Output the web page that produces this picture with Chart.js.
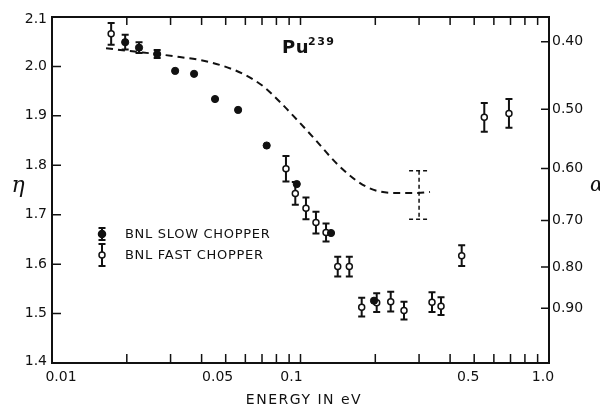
<!DOCTYPE html>
<html>
<head>
<meta charset="utf-8">
<script src="https://cdn.jsdelivr.net/npm/chart.js@4/dist/chart.umd.min.js"></script>
<style>
  html, body { margin: 0; padding: 0; background: #fff; }
  #wrap { width: 600px; height: 409px; position: relative; }
</style>
</head>
<body>
<div id="wrap"><canvas id="chart"></canvas></div>
<script>
// ── DATA ──────────────────────────────────────────────────
// BNL slow chopper (filled circles)
const slowE   = [0.0197, 0.0224, 0.0265, 0.0313, 0.0373, 0.0453, 0.0561, 0.0731, 0.0966, 0.1327, 0.1976];
const slowEta = [2.049,  2.038,  2.025,  1.991,  1.985,  1.934,  1.912,  1.840,  1.762,  1.663,  1.526];
const slowErr = [0.015,  0.011,  0.008,  0,      0,      0,      0,      0,      0,      0,      0];

// BNL fast chopper (open circles)
const fastE   = [0.0173, 0.0874, 0.0953, 0.1052, 0.1154, 0.1267, 0.1412, 0.1572, 0.1763, 0.2026, 0.2307, 0.2609, 0.3382, 0.3677, 0.4453, 0.549, 0.690];
const fastEta = [2.066,  1.793,  1.743,  1.713,  1.684,  1.664,  1.595,  1.595,  1.513,  1.522,  1.524,  1.506,  1.523,  1.515,  1.617,  1.897, 1.905];
const fastErr = [0.022,  0.026,  0.023,  0.022,  0.022,  0.018,  0.020,  0.020,  0.019,  0.019,  0.020,  0.018,  0.020,  0.018,  0.021,  0.029, 0.029];

// dashed reference curve
const curveE   = [0.0165, 0.0206, 0.0265, 0.0327, 0.0394, 0.0474, 0.0587, 0.0707, 0.0827, 0.0968, 0.1123, 0.1442, 0.1852, 0.2357, 0.297, 0.332];
const curveEta = [2.037,  2.031,  2.025,  2.019,  2.013,  2.003,  1.985,  1.960,  1.928,  1.892,  1.857,  1.797,  1.756,  1.744,  1.744, 1.746];
// dashed error bar on the curve
const curveBarE  = 0.30;
const curveBarHi = 1.789;
const curveBarLo = 1.691;

// axes
const xTickVals   = [0.01, 0.05, 0.1, 0.5, 1.0];
const xTickLabels = ['0.01', '0.05', '0.1', '0.5', '1.0'];
const xMinorVals  = [0.01, 0.02, 0.03, 0.04, 0.05, 0.06, 0.07, 0.08, 0.09, 0.1,
                     0.2, 0.3, 0.4, 0.5, 0.6, 0.7, 0.8, 0.9, 1.0];
const etaTicks    = [1.4, 1.5, 1.6, 1.7, 1.8, 1.9, 2.0, 2.1];
const etaLabels   = ['1.4', '1.5', '1.6', '1.7', '1.8', '1.9', '2.0', '2.1'];
const alphaTicks  = [0.40, 0.50, 0.60, 0.70, 0.80, 0.90];
const alphaLabels = ['0.40', '0.50', '0.60', '0.70', '0.80', '0.90'];
const NU = 2.87;  // eta = nu / (1 + alpha)

const FONT = '"DejaVu Sans", sans-serif';

// ── OVERLAY PLUGIN ───────────────────────────────────────
const overlay = {
  id: 'overlay',
  beforeDatasetsDraw(chart) {
    const ctx = chart.ctx, xs = chart.scales.x, ys = chart.scales.y;
    ctx.save();
    ctx.strokeStyle = '#111';
    ctx.lineWidth = 2;
    const bar = (E, v, e) => {
      if (!e) return;
      const px = xs.getPixelForValue(E);
      const t = ys.getPixelForValue(v + e), b = ys.getPixelForValue(v - e);
      ctx.beginPath();
      ctx.moveTo(px, t); ctx.lineTo(px, b);
      ctx.moveTo(px - 3.5, t); ctx.lineTo(px + 3.5, t);
      ctx.moveTo(px - 3.5, b); ctx.lineTo(px + 3.5, b);
      ctx.stroke();
    };
    slowE.forEach((E, i) => bar(E, slowEta[i], slowErr[i]));
    fastE.forEach((E, i) => bar(E, fastEta[i], fastErr[i]));

    // dashed bar on the curve
    const px = xs.getPixelForValue(curveBarE);
    const t = ys.getPixelForValue(curveBarHi), b = ys.getPixelForValue(curveBarLo);
    ctx.lineWidth = 1.5;
    ctx.setLineDash([4, 3]);
    ctx.beginPath();
    ctx.moveTo(px, t); ctx.lineTo(px, b);
    ctx.moveTo(px - 10, t); ctx.lineTo(px + 10, t);
    ctx.moveTo(px - 10, b); ctx.lineTo(px + 10, b);
    ctx.stroke();
    ctx.restore();
  },
  afterDraw(chart) {
    const ctx = chart.ctx, xs = chart.scales.x, ys = chart.scales.y;
    const a = chart.chartArea;
    ctx.save();
    ctx.strokeStyle = '#111';
    ctx.fillStyle = '#111';

    // frame
    ctx.lineWidth = 2;
    ctx.strokeRect(a.left, a.top, a.right - a.left, a.bottom - a.top);

    // x ticks (bottom pointing up, top pointing down)
    ctx.lineWidth = 1.5;
    ctx.beginPath();
    xMinorVals.forEach(v => {
      const px = xs.getPixelForValue(v);
      ctx.moveTo(px, a.bottom); ctx.lineTo(px, a.bottom - 9);
      ctx.moveTo(px, a.top);    ctx.lineTo(px, a.top + 8);
    });
    // left eta ticks
    etaTicks.forEach(v => {
      const py = ys.getPixelForValue(v);
      ctx.moveTo(a.left, py); ctx.lineTo(a.left + 9, py);
    });
    // right alpha ticks
    alphaTicks.forEach(al => {
      const py = ys.getPixelForValue(NU / (1 + al));
      ctx.moveTo(a.right, py); ctx.lineTo(a.right - 8, py);
    });
    ctx.stroke();

    // tick labels
    ctx.font = '14px ' + FONT;
    ctx.textBaseline = 'middle';
    ctx.textAlign = 'right';
    etaTicks.forEach((v, i) => {
      const py = ys.getPixelForValue(v);
      const dy = i === 0 ? -2 : (i === etaTicks.length - 1 ? 2 : 0);
      ctx.fillText(etaLabels[i], a.left - 5, py + dy);
    });
    ctx.textAlign = 'left';
    alphaTicks.forEach((al, i) => {
      ctx.fillText(alphaLabels[i], a.right + 3, ys.getPixelForValue(NU / (1 + al)));
    });
    const xOff = [9, -8, -9, -6, -6];
    ctx.textAlign = 'center';
    xTickVals.forEach((v, i) => {
      ctx.fillText(xTickLabels[i], xs.getPixelForValue(v) + xOff[i], a.bottom + 14);
    });

    // axis titles
    ctx.letterSpacing = '1.5px';
    ctx.fillText('ENERGY IN eV', 304, 400);
    ctx.letterSpacing = '0px';
    ctx.font = 'italic 22px "DejaVu Serif", serif';
    ctx.fillText('η', 18, 186);
    ctx.font = 'italic 20px "DejaVu Serif", serif';
    ctx.textAlign = 'left';
    ctx.fillText('α', 590, 186);

    // title Pu239
    ctx.textBaseline = 'alphabetic';
    ctx.font = 'bold 18px ' + FONT;
    ctx.letterSpacing = '0.5px';
    ctx.fillText('Pu', 282, 53);
    ctx.font = 'bold 11px ' + FONT;
    ctx.letterSpacing = '1.5px';
    ctx.fillText('239', 308, 45);

    // legend
    const lx = 102;
    const legend = [
      { y: 234, filled: true,  err: 6,  text: 'BNL SLOW CHOPPER' },
      { y: 255, filled: false, err: 11, text: 'BNL FAST CHOPPER' },
    ];
    ctx.font = '13px ' + FONT;
    ctx.letterSpacing = '0.7px';
    ctx.textBaseline = 'middle';
    legend.forEach(l => {
      ctx.lineWidth = 2;
      ctx.beginPath();
      ctx.moveTo(lx, l.y - l.err); ctx.lineTo(lx, l.y + l.err);
      ctx.moveTo(lx - 3.5, l.y - l.err); ctx.lineTo(lx + 3.5, l.y - l.err);
      ctx.moveTo(lx - 3.5, l.y + l.err); ctx.lineTo(lx + 3.5, l.y + l.err);
      ctx.stroke();
      ctx.beginPath();
      ctx.arc(lx, l.y, l.filled ? 3.5 : 3, 0, Math.PI * 2);
      ctx.fillStyle = l.filled ? '#111' : '#fff';
      ctx.fill();
      ctx.lineWidth = 1.5;
      ctx.stroke();
      ctx.fillStyle = '#111';
      ctx.fillText(l.text, 125, l.y + 1);
    });
    ctx.restore();
  }
};

// ── CHART ────────────────────────────────────────────────
const toPts = (xs, ys) => xs.map((x, i) => ({ x, y: ys[i] }));

new Chart(document.getElementById('chart').getContext('2d'), {
  type: 'scatter',
  data: {
    datasets: [
      {
        label: 'curve',
        type: 'line',
        data: toPts(curveE, curveEta),
        borderColor: '#111',
        borderWidth: 2,
        borderDash: [7, 5],
        pointRadius: 0,
        cubicInterpolationMode: 'monotone',
        fill: false,
      },
      {
        label: 'BNL SLOW CHOPPER',
        data: toPts(slowE, slowEta),
        pointRadius: 3.6,
        pointBackgroundColor: '#111',
        pointBorderColor: '#111',
        pointBorderWidth: 1,
      },
      {
        label: 'BNL FAST CHOPPER',
        data: toPts(fastE, fastEta),
        pointRadius: 3,
        pointBackgroundColor: '#fff',
        pointBorderColor: '#111',
        pointBorderWidth: 1.5,
      },
    ]
  },
  options: {
    responsive: true,
    maintainAspectRatio: false,
    animation: false,
    layout: { padding: { left: 52, right: 51, top: 17, bottom: 46 } },
    plugins: {
      legend: { display: false },
      tooltip: { enabled: false },
    },
    scales: {
      x: { type: 'logarithmic', min: 0.01, max: 1.0, display: false },
      y: { type: 'linear', min: 1.4, max: 2.1, display: false },
    }
  },
  plugins: [overlay]
});
</script>
</body>
</html>
